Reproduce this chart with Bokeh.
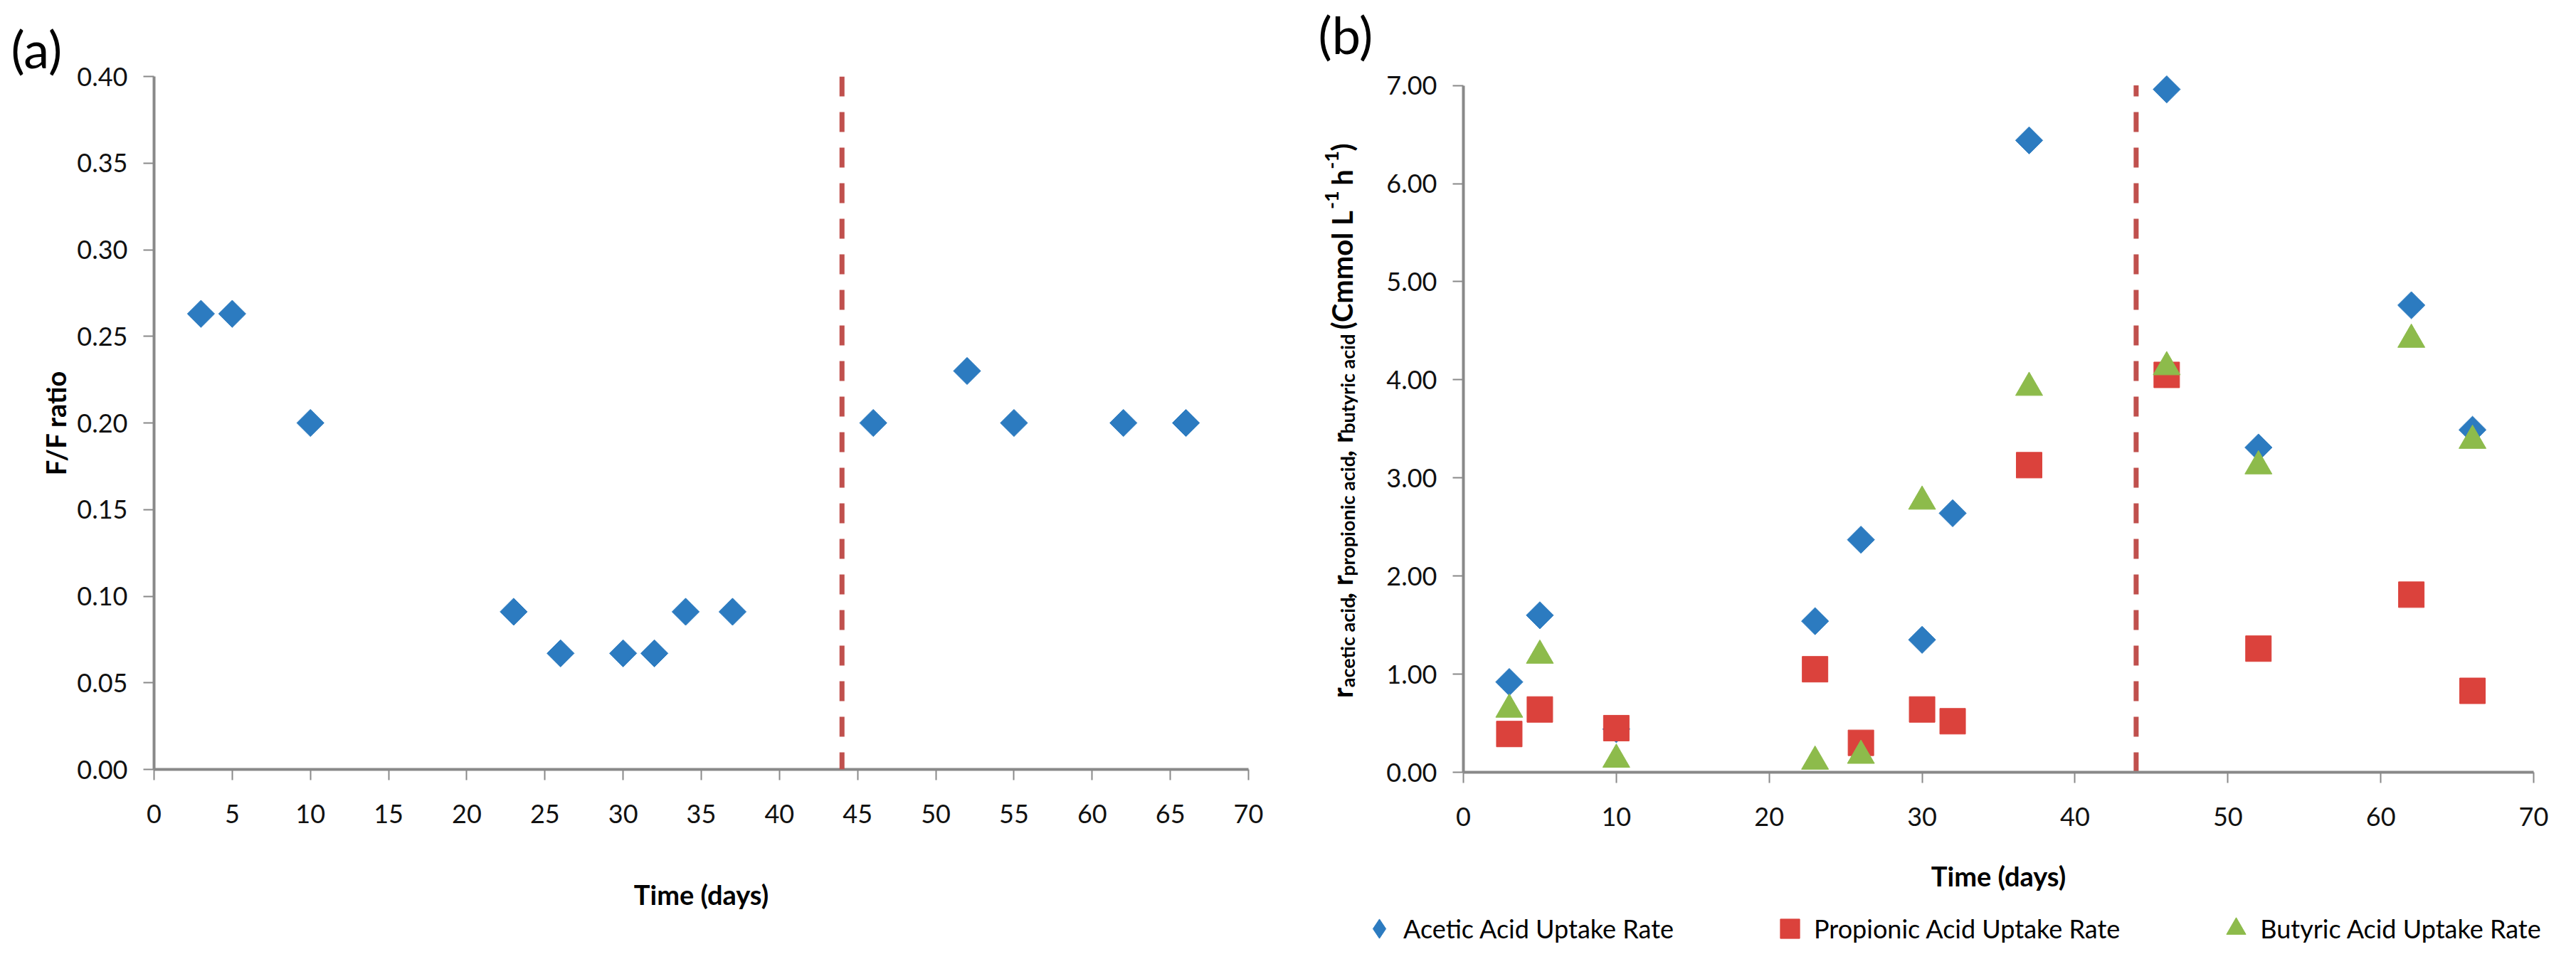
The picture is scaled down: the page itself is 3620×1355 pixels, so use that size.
import math
import numpy as np
from bokeh.plotting import figure
from bokeh.models import (Range1d, FixedTicker, NumeralTickFormatter, Span, Label,
                          Legend, LegendItem)
from bokeh.layouts import row, column
from bokeh.embed import file_html
from bokeh.resources import INLINE

# ---------------- data ----------------
days_a = [3, 5, 10, 23, 26, 30, 32, 34, 37, 46, 52, 55, 62, 66]
ff_ratio = [0.263, 0.263, 0.200, 0.091, 0.067, 0.067, 0.067, 0.091, 0.091,
            0.200, 0.230, 0.200, 0.200, 0.200]

days_b = [3, 5, 10, 23, 26, 30, 32, 37, 46, 52, 62, 66]
acetic = [0.92, 1.60, 0.44, 1.54, 2.37, 1.35, 2.64, 6.44, 6.96, 3.31, 4.76, 3.49]
propionic = [0.39, 0.64, 0.45, 1.05, 0.30, 0.64, 0.52, 3.13, 4.05, 1.26, 1.81, 0.83]
butyric = [0.64, 1.19, 0.13, 0.11, 0.17, 2.76, np.nan, 3.92, 4.13, 3.12, 4.41, 3.38]

switch_day = [44]

xticks_a = [0, 5, 10, 15, 20, 25, 30, 35, 40, 45, 50, 55, 60, 65, 70]
yticks_a = [0.00, 0.05, 0.10, 0.15, 0.20, 0.25, 0.30, 0.35, 0.40]
xticks_b = [0, 10, 20, 30, 40, 50, 60, 70]
yticks_b = [0, 1, 2, 3, 4, 5, 6, 7]

legend_labels = ["Acetic Acid Uptake Rate", "Propionic Acid Uptake Rate",
                 "Butyric Acid Uptake Rate"]

BLUE = "#2C7BC0"
RED = "#DB423C"
GREEN = "#8DBB4B"
DASH = "#C0504D"
AXIS = "#898989"
FONT = "Lato"

H = 1339          # total height
H2 = 72           # legend strip height
H1 = H - H2       # right chart height


def style(p, xlabel_standoff, ylabel_standoff=22):
    p.outline_line_color = None
    p.xgrid.visible = False
    p.ygrid.visible = False
    p.background_fill_color = "white"
    p.border_fill_color = "white"
    for ax in (p.xaxis[0], p.yaxis[0]):
        ax.axis_line_color = AXIS
        ax.axis_line_width = 4
        ax.major_tick_line_color = AXIS
        ax.major_tick_line_width = 2
        ax.major_tick_in = 0
        ax.major_tick_out = 15
        ax.minor_tick_line_color = None
        ax.major_label_text_font = FONT
        ax.major_label_text_font_size = "36px"
        ax.major_label_text_color = "#111111"
        ax.axis_label_text_font = FONT
        ax.axis_label_text_font_size = "38px"
        ax.axis_label_text_font_style = "bold"
        ax.axis_label_text_color = "#000000"
    p.xaxis[0].major_label_standoff = 34
    p.yaxis[0].major_label_standoff = 22
    p.xaxis[0].axis_label_standoff = xlabel_standoff
    p.yaxis[0].axis_label_standoff = ylabel_standoff


def blank(width, height, **kw):
    f = figure(width=width, height=height, output_backend="svg", toolbar_location=None,
               x_axis_type=None, y_axis_type=None,
               x_range=Range1d(0, 1), y_range=Range1d(0, 1), **kw)
    f.outline_line_color = None
    f.xgrid.visible = False
    f.ygrid.visible = False
    f.background_fill_color = "white"
    f.border_fill_color = "white"
    return f


def panel_title(p, text, offset, standoff):
    p.title.text = text
    p.title.align = "left"
    p.title.offset = offset
    p.title.standoff = standoff
    p.title.text_font = FONT
    p.title.text_font_size = "72px"
    p.title.text_font_style = "normal"
    p.title.text_color = "#000000"


# ---------------- (a) ----------------
pa = figure(width=1832, height=H, output_backend="svg", toolbar_location=None,
            x_range=Range1d(0, 70), y_range=Range1d(0, 0.40),
            min_border_left=216, min_border_right=78,
            min_border_top=107, min_border_bottom=258)
style(pa, 74, 4)
pa.xaxis[0].ticker = FixedTicker(ticks=xticks_a)
pa.yaxis[0].ticker = FixedTicker(ticks=yticks_a)
pa.yaxis[0].formatter = NumeralTickFormatter(format="0.00")
pa.xaxis[0].formatter = NumeralTickFormatter(format="0")
pa.xaxis[0].axis_label = "Time (days)"
pa.yaxis[0].axis_label = "F/F ratio"
panel_title(pa, "(a)", 23 - 224, -6)

pa.add_layout(Span(location=switch_day[0], dimension="height", line_color=DASH,
                   line_width=7, line_dash="28 22"))
pa.scatter(days_a, ff_ratio, marker="square", angle=math.pi / 4, size=27,
           fill_color=BLUE, line_color=BLUE)

# ---------------- right chart geometry ----------------
FRAME_BOTTOM_B = 1093            # page y of 0.00
PX_PER_UNIT = (1093 - 126) / 7.0  # 7.00 sits at page y 126
Y_TOP_B = 7.2                     # headroom so the top marker is not clipped
frame_top_b = FRAME_BOTTOM_B - Y_TOP_B * PX_PER_UNIT
TOP_B = int(round(frame_top_b - 8))
BOT_B = (8 + H1) - FRAME_BOTTOM_B

# ---------------- right label strip: (b) and rich y title ----------------
LB_X0 = 1840
lb = blank(110, H1, min_border_left=0, min_border_right=0,
           min_border_top=TOP_B, min_border_bottom=BOT_B)
panel_title(lb, "(b)", 1860 - LB_X0, int(round(frame_top_b - 94)))

WID = {"a": .51, "b": .57, "c": .46, "d": .57, "e": .53, "h": .57, "i": .26, "l": .26,
       "m": .85, "n": .57, "o": .57, "p": .57, "r": .38, "t": .37, "u": .57, "y": .52,
       "C": .69, "L": .49, " ": .20, ",": .23, "(": .32, ")": .32, "-": .36, "1": .58}


def tw(s, size):
    return sum(WID.get(ch, .55) for ch in s) * size


MAIN, SUB = 40, 27
pieces = [("r", "main"), ("acetic acid", "sub"), (", r", "main"),
          ("propionic acid", "sub"), (", r", "main"), ("butyric acid", "sub"),
          (" (Cmmol L", "main"), ("-1", "sup"), (" h", "main"), ("-1", "sup"),
          (")", "main")]
sizes = {"main": MAIN, "sub": SUB, "sup": SUB}
total = sum(tw(t, sizes[k]) for t, k in pieces)
xb = 1893 - LB_X0
xoff = {"main": 0, "sub": 8, "sup": -14}
center = FRAME_BOTTOM_B - 598
ycur = center - total / 2
for t, k in pieces:
    lead = len(t) - len(t.lstrip(" "))
    txt = t.lstrip(" ")
    ystart = ycur + tw(" " * lead, sizes[k])
    lb.add_layout(Label(x=xb + xoff[k], y=ystart, x_units="screen", y_units="screen",
                        text=txt, angle=math.pi / 2, text_font=FONT,
                        text_font_size=f"{sizes[k]}px", text_font_style="bold",
                        text_align="left", text_baseline="alphabetic",
                        text_color="#000000"))
    ycur += tw(t, sizes[k])

# ---------------- (b) ----------------
pb = figure(width=1662, height=H1, output_backend="svg", toolbar_location=None,
            x_range=Range1d(0, 70), y_range=Range1d(0, Y_TOP_B),
            min_border_left=114, min_border_right=44,
            min_border_top=TOP_B, min_border_bottom=BOT_B)
style(pb, 44)
pb.xaxis[0].ticker = FixedTicker(ticks=xticks_b)
pb.yaxis[0].ticker = FixedTicker(ticks=yticks_b)
pb.yaxis[0].bounds = (yticks_b[0], yticks_b[-1])
pb.yaxis[0].formatter = NumeralTickFormatter(format="0.00")
pb.xaxis[0].formatter = NumeralTickFormatter(format="0")
pb.xaxis[0].axis_label = "Time (days)"

pb.segment(x0=switch_day, y0=[yticks_b[0]], x1=switch_day, y1=[yticks_b[-1]],
           line_color=DASH, line_width=7, line_dash="28 22")
pb.scatter(days_b, acetic, marker="square", angle=math.pi / 4, size=27,
           fill_color=BLUE, line_color=BLUE)
pb.scatter(days_b, propionic, marker="square", size=36,
           fill_color=RED, line_color=RED)
pb.scatter(days_b, butyric, marker="triangle", size=38,
           fill_color=GREEN, line_color=GREEN)

# ---------------- legend strip under (b) ----------------
lg = blank(1772, H2, min_border=0, min_border_left=0, min_border_right=0,
           min_border_top=0, min_border_bottom=0)
g_ac = lg.scatter(days_b, acetic, marker="diamond", fill_color=BLUE, line_color=BLUE,
                  visible=False)
g_pr = lg.scatter(days_b, propionic, marker="square", fill_color=RED, line_color=RED,
                  visible=False)
g_bu = lg.scatter(days_b, butyric, marker="triangle", fill_color=GREEN,
                  line_color=GREEN, visible=False)
legend = Legend(items=[LegendItem(label=legend_labels[0], renderers=[g_ac]),
                       LegendItem(label=legend_labels[1], renderers=[g_pr]),
                       LegendItem(label=legend_labels[2], renderers=[g_bu])],
                location=(1912 - LB_X0, 0), orientation="horizontal",
                glyph_width=68, glyph_height=68, label_standoff=-8, spacing=129,
                padding=0, margin=0, border_line_color=None,
                background_fill_alpha=0, label_text_font=FONT,
                label_text_font_size="36px", label_text_color="#000000")
lg.add_layout(legend)

layout = row(pa, column(row(lb, pb), lg))
open("out.html", "w").write(file_html(layout, INLINE))
